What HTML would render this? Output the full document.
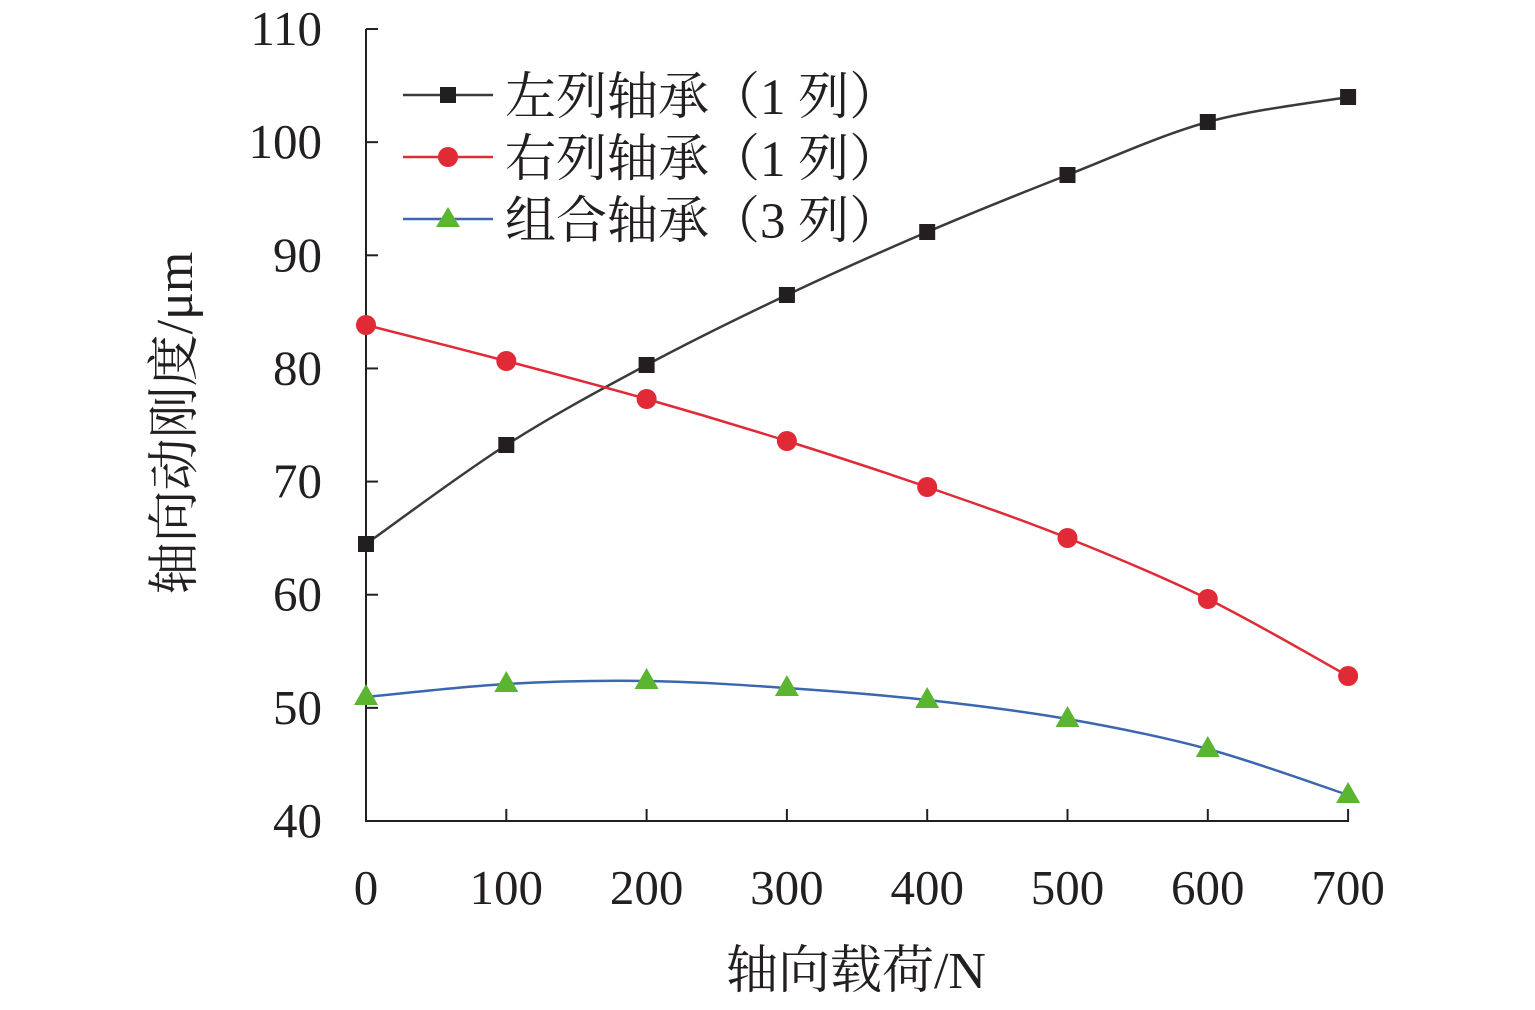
<!DOCTYPE html>
<html><head><meta charset="utf-8"><style>
html,body{margin:0;padding:0;background:#fff;}
svg text{font-family:"Liberation Serif","Noto Serif CJK SC",serif;fill:#231f20;}
</style></head><body>
<svg id="s" width="1535" height="1005" xmlns="http://www.w3.org/2000/svg">
<g stroke="#231f20" stroke-width="2" fill="none">
<line x1="366" y1="29" x2="366" y2="822"/>
<line x1="365" y1="821" x2="1349" y2="821"/>
<g id="yt"></g><g id="xt"></g>
</g>
<g id="lab" font-size="49"></g>
<text x="856" y="988" font-size="52" text-anchor="middle">轴向载荷/N</text>
<text transform="translate(192,423) rotate(-90)" font-size="52" text-anchor="middle">轴向动刚度/μm</text>
<g id="curves"></g>
<g font-size="51">
<line x1="403" y1="95" x2="493" y2="95" stroke="#3a3a3a" stroke-width="2.5"/>
<rect x="440" y="87" width="16" height="16" fill="#231f20"/>
<text x="505" y="114">左列轴承（1 列）</text>
<line x1="403" y1="157" x2="493" y2="157" stroke="#e02a36" stroke-width="2.5"/>
<circle cx="448" cy="157" r="10" fill="#e02a36"/>
<text x="505" y="176">右列轴承（1 列）</text>
<line x1="403" y1="219" x2="493" y2="219" stroke="#3b66b0" stroke-width="2.5"/>
<polygon points="448,207 460,227 436,227" fill="#5cb531"/>
<text x="505" y="238">组合轴承（3 列）</text>
</g>
</svg>
<script>
var NS="http://www.w3.org/2000/svg";
function el(t,a,p){var e=document.createElementNS(NS,t);for(var k in a)e.setAttribute(k,a[k]);document.getElementById(p).appendChild(e);return e;}
for(var v=40;v<=110;v+=10){var y=821-(v-40)*11.314;el("line",{x1:366,y1:y,x2:378,y2:y},"yt");var t=el("text",{x:322,y:y+16,"text-anchor":"end"},"lab");t.textContent=v;}
for(var i=0;i<=7;i++){var x=366+i*140.3;el("line",{x1:x,y1:809,x2:x,y2:821},"xt");var t=el("text",{x:x,y:904,"text-anchor":"middle"},"lab");t.textContent=i*100;}
var X=[366,506.3,646.6,786.9,927.2,1067.5,1207.8,1348.1];
var S=[{y:[544,445,365,295,232,175,122,97],c:"#3a3a3a",m:"sq"},
{y:[325,361,399,441,487,538,599,676],c:"#e02a36",m:"ci"},
{y:[697,684,681,688,700,719,749,795],c:"#3b66b0",m:"tr"}];
S.forEach(function(s){
 var P=X.map(function(x,i){return [x,s.y[i]];});
 var d="M"+P[0];
 for(var i=0;i<P.length-1;i++){var p0=P[Math.max(i-1,0)],p1=P[i],p2=P[i+1],p3=P[Math.min(i+2,P.length-1)];
  d+=" C"+(p1[0]+(p2[0]-p0[0])/6)+","+(p1[1]+(p2[1]-p0[1])/6)+" "+(p2[0]-(p3[0]-p1[0])/6)+","+(p2[1]-(p3[1]-p1[1])/6)+" "+p2;}
 el("path",{d:d,fill:"none",stroke:s.c,"stroke-width":2.5},"curves");
 P.forEach(function(p){
  if(s.m=="sq")el("rect",{x:p[0]-8,y:p[1]-8,width:16,height:16,fill:"#231f20"},"curves");
  else if(s.m=="ci")el("circle",{cx:p[0],cy:p[1],r:10,fill:"#e02a36"},"curves");
  else el("polygon",{points:p[0]+","+(p[1]-13)+" "+(p[0]+12)+","+(p[1]+8)+" "+(p[0]-12)+","+(p[1]+8),fill:"#5cb531"},"curves");
 });
});
</script>
</body></html>
